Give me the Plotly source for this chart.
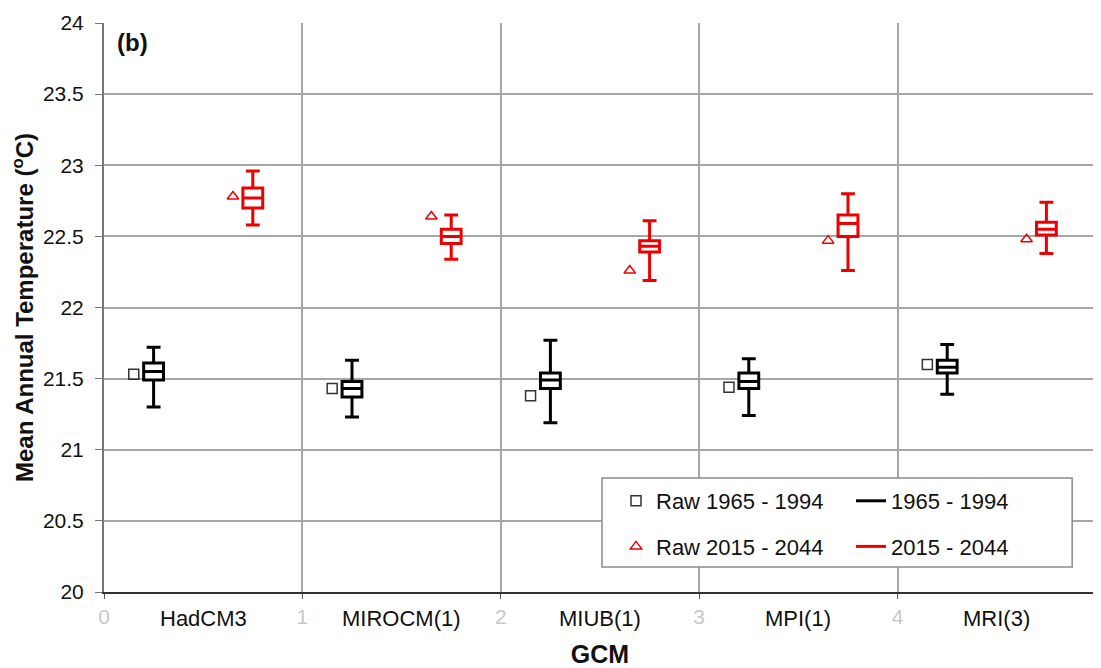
import plotly.graph_objects as go

# ---- data ----
gcms = ["HadCM3", "MIROCM(1)", "MIUB(1)", "MPI(1)", "MRI(3)"]
x_ticks = [0, 1, 2, 3, 4, 5]

base_upper = [21.72, 21.63, 21.77, 21.64, 21.74]
base_q3 = [21.61, 21.48, 21.54, 21.54, 21.63]
base_median = [21.55, 21.43, 21.49, 21.48, 21.58]
base_q1 = [21.49, 21.37, 21.43, 21.43, 21.54]
base_lower = [21.30, 21.23, 21.19, 21.24, 21.39]
base_raw = [21.53, 21.43, 21.38, 21.44, 21.60]

fut_upper = [22.96, 22.65, 22.61, 22.80, 22.74]
fut_q3 = [22.84, 22.55, 22.47, 22.65, 22.60]
fut_median = [22.77, 22.50, 22.43, 22.59, 22.55]
fut_q1 = [22.70, 22.45, 22.39, 22.50, 22.51]
fut_lower = [22.58, 22.34, 22.19, 22.26, 22.38]
fut_raw = [22.78, 22.64, 22.26, 22.47, 22.48]

# ---- style ----
FONT = "Liberation Sans, Arial, sans-serif"
RED = "#ee0000"
BLACK = "#000000"
GRID = "#a6a6a6"

idx = list(range(len(gcms)))
base_pos = [i + 0.25 for i in idx]
fut_pos = [i + 0.75 for i in idx]
base_raw_pos = [i + 0.15 for i in idx]
fut_raw_pos = [i + 0.65 for i in idx]

fig = go.Figure()

fig.add_trace(go.Box(
    x=base_pos, q1=base_q1, median=base_median, q3=base_q3,
    lowerfence=base_lower, upperfence=base_upper,
    width=0.1, whiskerwidth=0.7, fillcolor="white",
    line=dict(color=BLACK, width=3), boxpoints=False,
    showlegend=False, hoverinfo="skip"))
fig.add_trace(go.Box(
    x=fut_pos, q1=fut_q1, median=fut_median, q3=fut_q3,
    lowerfence=fut_lower, upperfence=fut_upper,
    width=0.1, whiskerwidth=0.7, fillcolor="white",
    line=dict(color=RED, width=3), boxpoints=False,
    showlegend=False, hoverinfo="skip"))

fig.add_trace(go.Scatter(
    x=base_raw_pos, y=base_raw, mode="markers", name="Raw 1965 - 1994",
    marker=dict(symbol="square-open", size=10, color="#333333", line=dict(width=1.5)),
    legend="legend", legendgroup="a"))
fig.add_trace(go.Scatter(
    x=fut_raw_pos, y=fut_raw, mode="markers", name="Raw 2015 - 2044",
    marker=dict(symbol="triangle-up-open", size=10, color=RED, line=dict(width=1.5)),
    legend="legend", legendgroup="b"))

# legend-only line entries
fig.add_trace(go.Scatter(
    x=[None], y=[None], mode="lines", name="1965 - 1994",
    line=dict(color=BLACK, width=3), legend="legend2", legendgroup="c"))
fig.add_trace(go.Scatter(
    x=[None], y=[None], mode="lines", name="2015 - 2044",
    line=dict(color=RED, width=3), legend="legend2", legendgroup="d"))

# category labels
for i, name in enumerate(gcms):
    fig.add_annotation(x=i + 0.5, y=0, xref="x", yref="paper", text=name,
                       showarrow=False, yanchor="middle", yshift=-26,
                       font=dict(family=FONT, size=22, color="#111111"))

fig.add_annotation(x=0.011, y=0.965, xref="paper", yref="paper", text="<b>(b)</b>",
                   showarrow=False, xanchor="left", yanchor="middle",
                   font=dict(family=FONT, size=24, color="#111111"))

# legend box
fig.add_shape(type="rect", xref="paper", yref="paper",
              x0=0.502, x1=0.976, y0=0.044, y1=0.2004,
              line=dict(color="#8c8c8c", width=1.5), fillcolor="white", layer="above")

legend_common = dict(
    bgcolor="rgba(0,0,0,0)", borderwidth=0,
    font=dict(family=FONT, size=22, color="#111111"),
    tracegroupgap=14, xanchor="left", yanchor="top", orientation="v",
)
fig.update_layout(
    legend=dict(x=(616 - 104) / 992, y=1 - (480 - 23) / 569, **legend_common),
    legend2=dict(x=(851 - 104) / 992, y=1 - (480 - 23) / 569, **legend_common),
)

# page body adds an 8px offset, so the figure is 8px smaller and margins shifted
fig.update_layout(
    width=1093, height=660,
    margin=dict(l=96, r=5, t=15, b=76),
    paper_bgcolor="white", plot_bgcolor="white",
    boxmode="overlay",
    font=dict(family=FONT, size=20, color="#111111"),
    xaxis=dict(
        range=[0, 5], tickvals=x_ticks, ticktext=[str(v) for v in x_ticks],
        tickfont=dict(family=FONT, size=21, color="#c8c8c8"),
        showgrid=True, gridcolor=GRID, gridwidth=1.5,
        showline=True, linecolor="#333333", linewidth=1.5,
        ticks="outside", ticklen=5, tickcolor="#555555",
        zeroline=False, automargin=False,
        title=dict(text="<b>GCM</b>", font=dict(family=FONT, size=25, color="#111111"),
                   standoff=21),
    ),
    yaxis=dict(
        range=[20, 24], dtick=0.5, tick0=20,
        tickfont=dict(family=FONT, size=21, color="#111111"),
        showgrid=True, gridcolor=GRID, gridwidth=1.5,
        showline=True, linecolor="#777777", linewidth=2,
        ticks="outside", ticklen=7, tickcolor="#777777", ticklabelstandoff=7,
        zeroline=False, automargin=False,
        title=dict(text="<b>Mean Annual Temperature (<sup>o</sup>C)</b>",
                   font=dict(family=FONT, size=24, color="#111111"), standoff=7),
    ),
)

fig.write_html("out.html")
